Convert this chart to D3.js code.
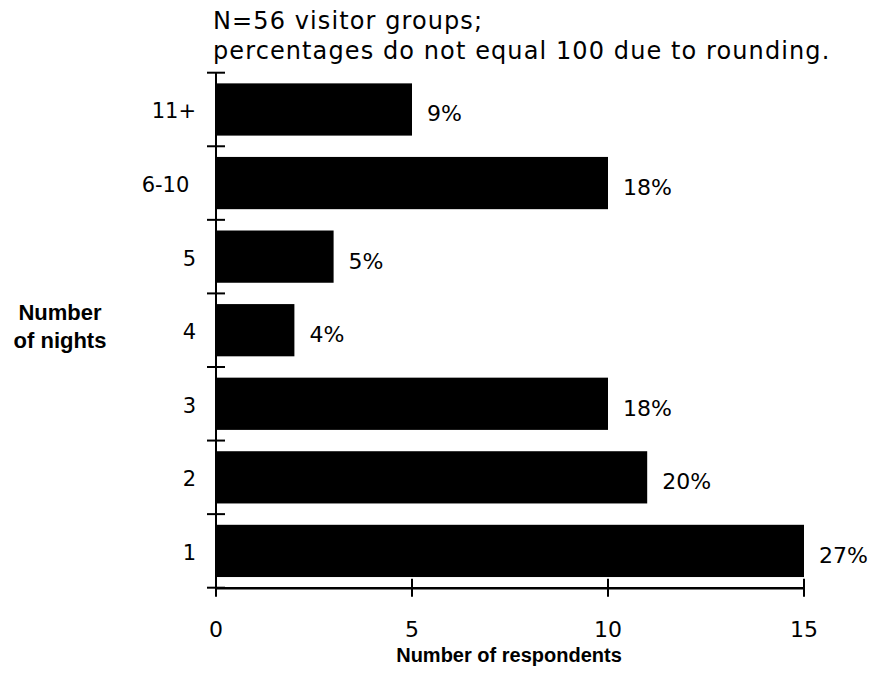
<!DOCTYPE html>
<html>
<head>
<meta charset="utf-8">
<script src="https://cdn.jsdelivr.net/npm/d3@7"></script>
<style>
  html, body { margin: 0; padding: 0; background: #fff; }
  svg { display: block; }
  text { font-family: "DejaVu Sans", sans-serif; fill: #000; }
  .bold { font-family: "Liberation Sans", Arial, sans-serif; font-weight: bold; }
</style>
</head>
<body>
<div id="chart"></div>
<script>
// ---- data ----
const categories = ["11+", "6-10 ", "5", "4", "3", "2", "1"];
const respondents = [5, 10, 3, 2, 10, 11, 15];
const percentLabels = ["9%", "18%", "5%", "4%", "18%", "20%", "27%"];
const xTicks = [0, 5, 10, 15];
const noteLines = ["N=56 visitor groups;", "percentages do not equal 100 due to rounding."];
const xTitle = "Number of respondents";
const yTitleLines = ["Number", "of nights"];

// ---- layout ----
const W = 874, H = 686;
const plotLeft = 216, plotRight = 804, plotTop = 72.7, plotBottom = 587.7;

const svg = d3.select("#chart").append("svg").attr("width", W).attr("height", H);

const x = d3.scaleLinear().domain([0, 15]).range([plotLeft, plotRight]);
const y = d3.scaleBand().domain(d3.range(categories.length)).range([plotTop, plotBottom])
  .paddingInner(0.29).paddingOuter(0.145);
const yEdges = d3.scaleLinear().domain([0, categories.length]).range([plotTop, plotBottom]);

// bars
svg.append("g").selectAll("rect").data(respondents).join("rect")
  .attr("x", x(0))
  .attr("y", (d, i) => y(i))
  .attr("width", d => x(d) - x(0))
  .attr("height", y.bandwidth())
  .attr("fill", "#000");

// value labels
svg.append("g").selectAll("text").data(percentLabels).join("text")
  .attr("x", (d, i) => x(respondents[i]) + 15)
  .attr("y", (d, i) => y(i) + y.bandwidth() / 2 + 12)
  .attr("font-size", 22)
  .text(d => d);

// y axis line + cross ticks at band edges
const axisG = svg.append("g").attr("stroke", "#000").attr("stroke-width", 2);
axisG.append("line").attr("x1", x(0)).attr("x2", x(0)).attr("y1", plotTop).attr("y2", plotBottom);
axisG.selectAll("line.yt").data(d3.range(categories.length + 1)).join("line")
  .attr("class", "yt")
  .attr("x1", x(0) - 9).attr("x2", x(0) + 9)
  .attr("y1", d => yEdges(d)).attr("y2", d => yEdges(d));

// x axis
const xAxis = d3.axisBottom(x).tickValues(xTicks).tickSize(0).tickPadding(0);
const xg = svg.append("g").attr("transform", `translate(0,${plotBottom})`).call(xAxis);
xg.select(".domain").attr("stroke", "#000").attr("stroke-width", 2.5);
xg.selectAll(".tick line").remove();
xg.selectAll(".tick text").remove();
axisG.selectAll("line.xt").data(xTicks).join("line")
  .attr("class", "xt")
  .attr("x1", d => x(d)).attr("x2", d => x(d))
  .attr("y1", plotBottom - 9).attr("y2", plotBottom + 9);
svg.append("g").selectAll("text").data(xTicks).join("text")
  .attr("x", d => x(d)).attr("y", 637)
  .attr("text-anchor", "middle").attr("font-size", 22)
  .text(d => d);

// category labels
svg.append("g").selectAll("text").data(categories).join("text")
  .attr("x", 196)
  .attr("y", (d, i) => y(i) + y.bandwidth() / 2 + 9)
  .attr("text-anchor", "end").attr("font-size", 21)
  .style("white-space", "pre")
  .text(d => d);

// note
svg.append("g").selectAll("text").data(noteLines).join("text")
  .attr("x", 213).attr("y", (d, i) => 29 + i * 30)
  .attr("font-size", 24).attr("letter-spacing", 1.1)
  .text(d => d);

// axis titles
svg.append("text").attr("class", "bold").attr("x", 509).attr("y", 662)
  .attr("text-anchor", "middle").attr("font-size", 20)
  .text(xTitle);
svg.append("g").selectAll("text").data(yTitleLines).join("text")
  .attr("class", "bold")
  .attr("x", 60).attr("y", (d, i) => 320 + i * 28)
  .attr("text-anchor", "middle").attr("font-size", 22)
  .text(d => d);
</script>
</body>
</html>
